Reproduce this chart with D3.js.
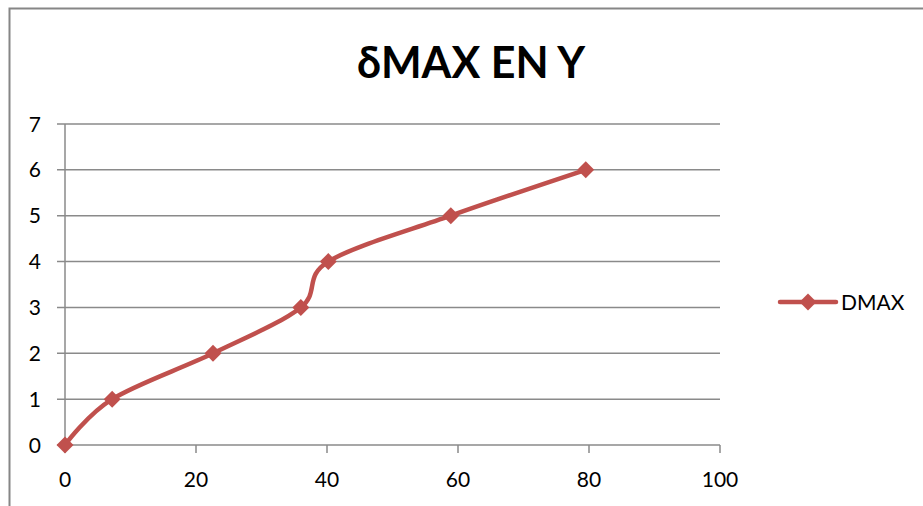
<!DOCTYPE html>
<html><head><meta charset="utf-8">
<script src="https://cdn.jsdelivr.net/npm/d3@7"></script>
<style>html,body{margin:0;padding:0;background:#fff;}svg{display:block;}</style>
</head><body>
<svg id="c" width="923" height="506"></svg>
<script>
const title = "δMAX EN Y";
const seriesName = "DMAX";
const xValues = [0, 7.2, 22.6, 36.0, 40.2, 58.9, 79.5];
const yValues = [0, 1, 2, 3, 4, 5, 6];
const xTicks = [0, 20, 40, 60, 80, 100];
const yTicks = [0, 1, 2, 3, 4, 5, 6, 7];

const svg = d3.select("#c");
const color = "#C0504D";
const grid = "#8a8a8a";
const font = "Lato, 'Open Sans', sans-serif";

// outer chart border (cropped)
svg.append("path").attr("d", "M9.5,506 L9.5,8.5 L923,8.5")
  .attr("fill", "none").attr("stroke", "#868686").attr("stroke-width", 2);

const x = d3.scaleLinear().domain([0, 100]).range([65, 720]);
const y = d3.scaleLinear().domain([0, 7]).range([445, 124]);

// gridlines + y ticks
svg.append("g").selectAll("line").data(yTicks).join("line")
  .attr("x1", 57).attr("x2", x(100))
  .attr("y1", d => y(d)).attr("y2", d => y(d))
  .attr("stroke", grid).attr("stroke-width", 1.5);

// y axis line
svg.append("line").attr("x1", x(0)).attr("x2", x(0)).attr("y1", y(7)).attr("y2", y(0))
  .attr("stroke", grid).attr("stroke-width", 1.5);
// x tick marks
svg.append("g").selectAll("line").data(xTicks).join("line")
  .attr("x1", d => x(d)).attr("x2", d => x(d)).attr("y1", y(0)).attr("y2", y(0) + 8)
  .attr("stroke", grid).attr("stroke-width", 1.5);

// y labels
svg.append("g").selectAll("text").data(yTicks).join("text")
  .attr("x", 41).attr("y", d => y(d)).attr("dy", "0.36em")
  .attr("text-anchor", "end").attr("font-family", font).attr("font-size", 21)
  .attr("fill", "#000").text(d => d);
// x labels
svg.append("g").selectAll("text").data(xTicks).join("text")
  .attr("x", d => x(d)).attr("y", 487)
  .attr("text-anchor", "middle").attr("font-family", font).attr("font-size", 21)
  .attr("fill", "#000").text(d => d);

// title
svg.append("text").attr("x", 471).attr("y", 78).attr("text-anchor", "middle")
  .attr("font-family", font).attr("font-weight", "bold").attr("font-size", 43)
  .attr("fill", "#000").text(title);

const pts = xValues.map((v, i) => [v, yValues[i]]);
const line = d3.line().x(d => x(d[0])).y(d => y(d[1])).curve(d3.curveCardinal.tension(0));
svg.append("path").attr("d", line(pts)).attr("fill", "none")
  .attr("stroke", color).attr("stroke-width", 4.5).attr("stroke-linejoin", "round");

const diamond = d3.symbol().type(d3.symbolSquare).size(144);
svg.append("g").selectAll("path").data(pts).join("path")
  .attr("d", diamond)
  .attr("transform", d => `translate(${x(d[0])},${y(d[1])}) rotate(45)`)
  .attr("fill", color);

// legend
const ly = 302;
svg.append("line").attr("x1", 780).attr("x2", 836).attr("y1", ly).attr("y2", ly)
  .attr("stroke", color).attr("stroke-width", 4.5).attr("stroke-linecap", "round");
svg.append("path").attr("d", diamond).attr("transform", `translate(808,${ly}) rotate(45)`).attr("fill", color);
svg.append("text").attr("x", 841).attr("y", ly).attr("dy", "0.36em")
  .attr("font-family", font).attr("font-size", 21).attr("fill", "#000").text(seriesName);
</script>
</body></html>
